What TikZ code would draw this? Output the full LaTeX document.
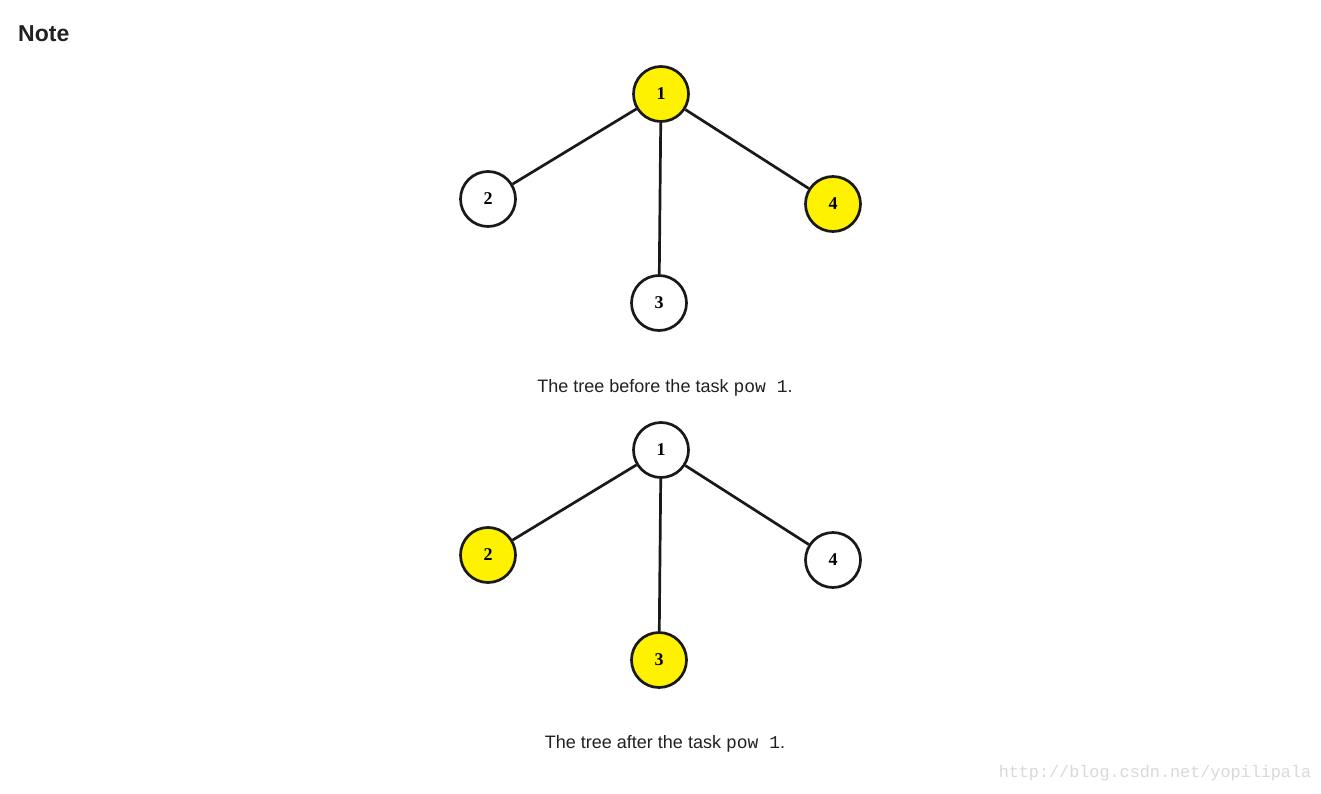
\documentclass[tikz,border=0pt]{standalone}
\usepackage{fontspec}
\setmainfont{Liberation Serif}
\setsansfont{Liberation Sans}
\setmonofont{Liberation Mono}
\begin{document}
\begin{tikzpicture}[x=1pt,y=-1pt,
  vert/.style={circle,draw=black!90,line width=2.7pt,minimum size=55pt,inner sep=0pt,font=\fontsize{18}{18}\selectfont\bfseries},
  hot/.style={vert,fill=yellow},
  cold/.style={vert,fill=white},
  link/.style={draw=black!90,line width=2.7pt},
  captext/.style={font=\sffamily\fontsize{18}{20}\selectfont,text=black!87,inner sep=0pt},
  heading/.style={font=\sffamily\bfseries\fontsize{23}{24}\selectfont,text=black!87,inner sep=0pt,anchor=base west},
  wm/.style={font=\ttfamily\fontsize{16.8}{20}\selectfont,text=black!15,inner sep=0pt}]
\path[use as bounding box] (0,0) rectangle (1321,794);
\fill[white] (0,0) rectangle (1321,794);
\node[heading] (note) at (18,42) {Note};
% top tree
\node[hot]  (a1) at (661,94) {1};
\node[cold] (a2) at (488,199) {2};
\node[cold] (a3) at (659,303) {3};
\node[hot]  (a4) at (833,204) {4};
\draw[link] (a1) -- (a2);
\draw[link] (a1) -- (a3);
\draw[link] (a1) -- (a4);
\node[captext] (c1) at (665,388) {The tree before the task \texttt{pow 1}.};
% bottom tree
\node[cold] (b1) at (661,450) {1};
\node[hot]  (b2) at (488,555) {2};
\node[hot]  (b3) at (659,660) {3};
\node[cold] (b4) at (833,560) {4};
\draw[link] (b1) -- (b2);
\draw[link] (b1) -- (b3);
\draw[link] (b1) -- (b4);
\node[captext] (c2) at (665,744) {The tree after the task \texttt{pow 1}.};
\node[wm] (w) at (1155,773) {http://blog.csdn.net/yopilipala};
\end{tikzpicture}
\end{document}
